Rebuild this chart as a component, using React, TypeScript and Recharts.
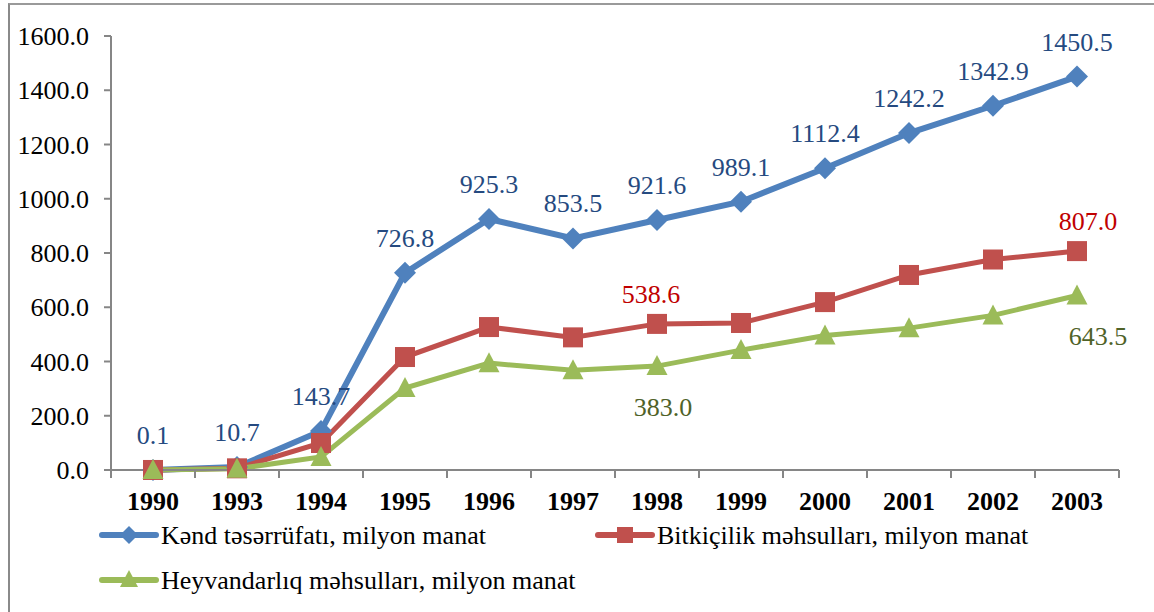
import React from 'react';
import { LineChart, Line, XAxis, YAxis, LabelList } from 'recharts';

const years = ['1990', '1993', '1994', '1995', '1996', '1997', '1998', '1999', '2000', '2001', '2002', '2003'];
const kend = [0.1, 10.7, 143.7, 726.8, 925.3, 853.5, 921.6, 989.1, 1112.4, 1242.2, 1342.9, 1450.5];
const bitki = [0.1, 6.2, 99.5, 416.5, 527.0, 489.0, 538.6, 542.0, 619.0, 719.0, 776.0, 807.0];
const heyvan = [0.0, 4.5, 48.0, 302.0, 394.0, 368.0, 383.0, 442.0, 496.0, 523.0, 570.0, 643.5];
const yTicks = [0, 200, 400, 600, 800, 1000, 1200, 1400, 1600];
const seriesNames = [
  'Kənd təsərrüfatı, milyon manat',
  'Bitkiçilik məhsulları, milyon manat',
  'Heyvandarlıq məhsulları, milyon manat',
];
const labeledIdx = [6, 11];

const data = years.map((y, i) => ({ year: y, kend: kend[i], bitki: bitki[i], heyvan: heyvan[i] }));

const FONT = 'Liberation Serif, DejaVu Serif, serif';
const BLUE = '#4F81BD';
const RED = '#C0504D';
const GREEN = '#9BBB59';
const AXIS = '#868686';

const Diamond = (p: any) => {
  const { cx, cy } = p;
  if (cx == null || cy == null) return null;
  return <polygon points={`${cx},${cy - 11} ${cx + 11},${cy} ${cx},${cy + 11} ${cx - 11},${cy}`} fill={BLUE} />;
};
const Square = (p: any) => {
  const { cx, cy } = p;
  if (cx == null || cy == null) return null;
  return <rect x={cx - 10} y={cy - 10} width={20} height={20} fill={RED} />;
};
const Triangle = (p: any) => {
  const { cx, cy } = p;
  if (cx == null || cy == null) return null;
  return <polygon points={`${cx},${cy - 11} ${cx + 10.5},${cy + 9} ${cx - 10.5},${cy + 9}`} fill={GREEN} />;
};

const BlueLabel = (p: any) => {
  const { x, y, value } = p;
  return (
    <text x={x} y={y - 26} textAnchor="middle" fill="#254A80" fontSize={26} style={{ fontFamily: FONT }}>
      {Number(value).toFixed(1)}
    </text>
  );
};
const RedLabel = (p: any) => {
  const { x, y, value, index } = p;
  if (!labeledIdx.includes(index)) return null;
  const dx = index === years.length - 1 ? 11 : -6;
  return (
    <text x={x + dx} y={y - 21} textAnchor="middle" fill="#C00000" fontSize={26} style={{ fontFamily: FONT }}>
      {Number(value).toFixed(1)}
    </text>
  );
};
const GreenLabel = (p: any) => {
  const { x, y, value, index } = p;
  if (!labeledIdx.includes(index)) return null;
  const dx = index === years.length - 1 ? 21 : 6;
  return (
    <text x={x + dx} y={y + 50} textAnchor="middle" fill="#4F6228" fontSize={26} style={{ fontFamily: FONT }}>
      {Number(value).toFixed(1)}
    </text>
  );
};

const XTick = (p: any) => {
  const { x, y, payload } = p;
  const half = 42;
  const last = payload.value === years[years.length - 1];
  return (
    <g>
      <line x1={x - half} x2={x - half} y1={y} y2={y + 8} stroke={AXIS} strokeWidth={2} />
      {last && <line x1={x + half} x2={x + half} y1={y} y2={y + 8} stroke={AXIS} strokeWidth={2} />}
      <text x={x} y={y + 40} textAnchor="middle" fontWeight="bold" fontSize={26} style={{ fontFamily: FONT }} fill="#000">
        {payload.value}
      </text>
    </g>
  );
};

const LegendIcon = ({ x, y, color, shape }: { x: number; y: number; color: string; shape: string }) => (
  <g>
    <line x1={x} x2={x + 54} y1={y} y2={y} stroke={color} strokeWidth={6} strokeLinecap="round" />
    {shape === 'diamond' && (
      <polygon points={`${x + 27},${y - 9} ${x + 36},${y} ${x + 27},${y + 9} ${x + 18},${y}`} fill={color} />
    )}
    {shape === 'square' && <rect x={x + 19} y={y - 8} width={16} height={16} fill={color} />}
    {shape === 'triangle' && (
      <polygon points={`${x + 27},${y - 10} ${x + 36},${y + 7} ${x + 18},${y + 7}`} fill={color} />
    )}
  </g>
);

export default function App() {
  return (
    <div style={{ position: 'absolute', left: 0, top: 0, width: 1154, height: 612, overflow: 'hidden', background: '#fff', fontFamily: FONT }}>
      <div
        style={{
          position: 'absolute',
          left: 8,
          top: 3,
          width: 1160,
          height: 640,
          borderTop: '2px solid #9A9A9A',
          borderLeft: '2px solid #8A8A8A',
        }}
      />
      <div style={{ position: 'absolute', left: 0, top: 0 }}>
        <LineChart width={1154} height={612} data={data} margin={{ top: 36, right: 35, left: 11, bottom: 92 }}>
          <XAxis
            dataKey="year"
            height={50}
            padding={{ left: 42, right: 42 }}
            axisLine={{ stroke: AXIS, strokeWidth: 2 }}
            tickLine={false}
            tickSize={0}
            tickMargin={0}
            tick={<XTick />}
            interval={0}
          />
          <YAxis
            width={100}
            domain={[0, 1600]}
            ticks={yTicks}
            interval={0}
            axisLine={{ stroke: AXIS, strokeWidth: 2 }}
            tickLine={{ stroke: AXIS, strokeWidth: 2 }}
            tickSize={7}
            tickMargin={15}
            tickFormatter={(v: number) => v.toFixed(1)}
            tick={{ fill: '#000', fontSize: 26, style: { fontFamily: FONT } }}
          />
          <Line dataKey="kend" stroke={BLUE} strokeWidth={6} dot={<Diamond />} activeDot={false} isAnimationActive={false}>
            <LabelList dataKey="kend" content={<BlueLabel />} />
          </Line>
          <Line dataKey="bitki" stroke={RED} strokeWidth={5} dot={<Square />} activeDot={false} isAnimationActive={false}>
            <LabelList dataKey="bitki" content={<RedLabel />} />
          </Line>
          <Line dataKey="heyvan" stroke={GREEN} strokeWidth={5} dot={<Triangle />} activeDot={false} isAnimationActive={false}>
            <LabelList dataKey="heyvan" content={<GreenLabel />} />
          </Line>
        </LineChart>
      </div>
      <svg style={{ position: 'absolute', left: 0, top: 0, fontFamily: FONT }} width={1154} height={612}>
        <LegendIcon x={102} y={535} color={BLUE} shape="diamond" />
        <text x={161} y={544} fontSize={26} fill="#000">{seriesNames[0]}</text>
        <LegendIcon x={598} y={535} color={RED} shape="square" />
        <text x={657} y={544} fontSize={26} fill="#000">{seriesNames[1]}</text>
        <LegendIcon x={102} y={580} color={GREEN} shape="triangle" />
        <text x={161} y={589} fontSize={26} fill="#000">{seriesNames[2]}</text>
      </svg>
    </div>
  );
}
